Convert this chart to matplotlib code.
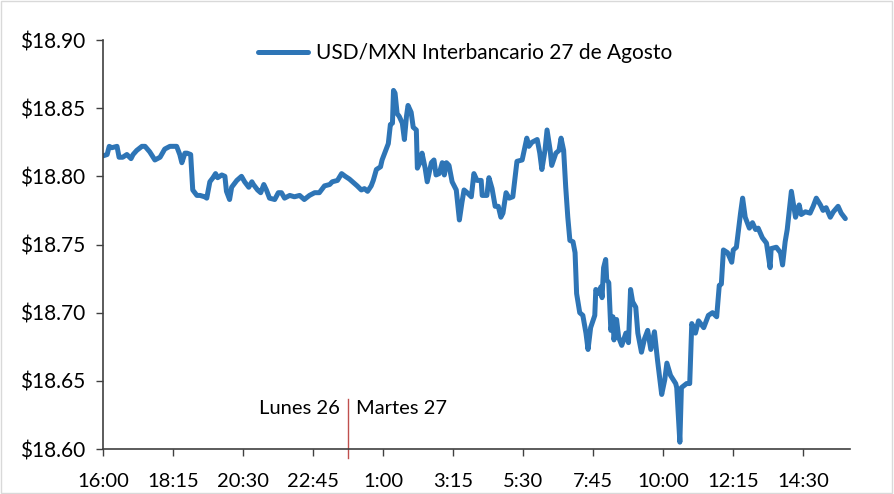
import matplotlib
matplotlib.use("Agg")
import matplotlib.pyplot as plt
from matplotlib.patches import Rectangle

# minutes elapsed since 16:00 (Lunes 26)
minutes = [0, 8, 12, 17, 27, 31, 38, 46, 54, 58, 65, 75, 81, 90, 100, 110, 119, 129, 137, 142,
           148, 152, 158, 162, 169, 173, 181, 187, 196, 200, 206, 212, 217, 221, 229, 235, 238, 244, 248, 258,
           267, 273, 281, 287, 290, 298, 304, 310, 315, 321, 331, 338, 344, 350, 360, 369, 379, 388, 398, 408,
           417, 427, 437, 442, 452, 460, 467, 475, 481, 490, 498, 504, 510, 517, 521, 527, 535, 538, 544, 550,
           554, 558, 560, 563, 567, 571, 577, 581, 585, 588, 594, 598, 604, 606, 612, 615, 621, 625, 633, 638,
           642, 648, 654, 658, 662, 667, 673, 681, 687, 692, 696, 702, 710, 715, 721, 729, 731, 740, 744, 750,
           756, 762, 767, 771, 777, 783, 790, 798, 808, 817, 821, 827, 837, 842, 846, 852, 856, 862, 865, 873,
           879, 883, 888, 892, 896, 900, 906, 910, 913, 919, 925, 931, 935, 940, 948, 950, 954, 960, 962, 965,
           969, 971, 975, 979, 983, 985, 990, 994, 1000, 1008, 1013, 1017, 1021, 1027, 1031, 1038, 1044, 1050, 1056, 1063,
           1069, 1077, 1083, 1087, 1094, 1104, 1106, 1112, 1115, 1125, 1131, 1135, 1142, 1148, 1158, 1167, 1175, 1183, 1188, 1192,
           1196, 1204, 1212, 1215, 1221, 1229, 1233, 1238, 1246, 1252, 1258, 1263, 1271, 1279, 1286, 1288, 1298, 1306, 1310, 1315,
           1319, 1327, 1335, 1342, 1346, 1354, 1363, 1369, 1375, 1383, 1388, 1394, 1402, 1408, 1417, 1423, 1431]

usdmxn = [18.815, 18.816, 18.822, 18.821, 18.822, 18.814, 18.814, 18.816, 18.813, 18.816, 18.819, 18.822, 18.822, 18.818, 18.812, 18.814, 18.820, 18.822, 18.822, 18.822,
          18.816, 18.810, 18.817, 18.817, 18.816, 18.790, 18.786, 18.786, 18.785, 18.784, 18.796, 18.799, 18.802, 18.799, 18.801, 18.800, 18.789, 18.783, 18.792, 18.797,
          18.800, 18.796, 18.792, 18.796, 18.794, 18.790, 18.788, 18.794, 18.790, 18.784, 18.783, 18.788, 18.788, 18.784, 18.786, 18.785, 18.786, 18.783, 18.786, 18.788,
          18.788, 18.793, 18.794, 18.796, 18.797, 18.802, 18.800, 18.798, 18.796, 18.793, 18.790, 18.791, 18.789, 18.793, 18.797, 18.805, 18.807, 18.812, 18.818, 18.824,
          18.838, 18.839, 18.863, 18.861, 18.846, 18.844, 18.839, 18.827, 18.844, 18.852, 18.847, 18.836, 18.834, 18.806, 18.811, 18.817, 18.806, 18.796, 18.810, 18.812,
          18.801, 18.802, 18.810, 18.801, 18.810, 18.808, 18.796, 18.790, 18.768, 18.781, 18.790, 18.788, 18.785, 18.802, 18.797, 18.797, 18.786, 18.786, 18.799, 18.791,
          18.778, 18.778, 18.770, 18.773, 18.788, 18.784, 18.785, 18.811, 18.812, 18.828, 18.822, 18.825, 18.827, 18.817, 18.805, 18.819, 18.834, 18.819, 18.808, 18.817,
          18.819, 18.828, 18.819, 18.792, 18.770, 18.753, 18.752, 18.744, 18.714, 18.700, 18.698, 18.685, 18.673, 18.689, 18.698, 18.717, 18.714, 18.719, 18.711, 18.733,
          18.739, 18.724, 18.722, 18.687, 18.697, 18.680, 18.695, 18.682, 18.676, 18.685, 18.678, 18.717, 18.708, 18.704, 18.685, 18.671, 18.681, 18.687, 18.673, 18.686,
          18.665, 18.640, 18.651, 18.663, 18.654, 18.648, 18.645, 18.605, 18.645, 18.648, 18.648, 18.692, 18.685, 18.694, 18.689, 18.698, 18.700, 18.697, 18.720, 18.721,
          18.746, 18.744, 18.737, 18.746, 18.748, 18.773, 18.784, 18.770, 18.762, 18.766, 18.761, 18.762, 18.755, 18.751, 18.733, 18.747, 18.748, 18.744, 18.735, 18.752,
          18.761, 18.789, 18.770, 18.779, 18.772, 18.774, 18.773, 18.778, 18.784, 18.779, 18.775, 18.777, 18.770, 18.774, 18.778, 18.773, 18.769]

tick_minutes = [0, 135, 270, 405, 540, 675, 810, 945, 1080, 1215, 1350]
tick_labels = ["16:00", "18:15", "20:30", "22:45", "1:00", "3:15", "5:30", "7:45", "10:00", "12:15", "14:30"]
y_ticks = [18.60, 18.65, 18.70, 18.75, 18.80, 18.85, 18.90]
series_label = "USD/MXN Interbancario 27 de Agosto"
day_split = 472
day_labels = ["Lunes 26", "Martes 27"]

plt.rcParams['font.family'] = ['Lato', 'DejaVu Sans']
FS = 15
FSX = 14.5

fig = plt.figure(figsize=(8.94, 4.94), dpi=100)
ax = fig.add_axes([103/894, 1-449/494, (850-103)/894, (449-40)/494])

ax.plot(minutes, usdmxn, color="#2E75B6", lw=3.6, solid_joinstyle="round",
        solid_capstyle="round", label=series_label)

ax.set_xlim(0, 1440)
ax.set_ylim(18.60, 18.90)
ax.set_xticks(tick_minutes)
ax.set_xticklabels(tick_labels)
ax.set_yticks(y_ticks)
ax.set_yticklabels([f"${v:.2f}" for v in y_ticks])

for s in ["top", "right"]:
    ax.spines[s].set_visible(False)
for s in ["left", "bottom"]:
    ax.spines[s].set_color("#404040")
    ax.spines[s].set_linewidth(1.2)
ax.tick_params(axis="both", direction="out", length=5, width=1.0, color="#404040",
               labelcolor="black")
ax.tick_params(axis="x", pad=12, labelsize=FSX)
ax.tick_params(axis="y", pad=8, labelsize=FS)

# day separator
trans = ax.get_xaxis_transform()
ax.plot([day_split, day_split], [-0.022, 0.122], color="#C0504D", lw=1.0,
        transform=trans, clip_on=False)
ax.text(day_split - 15, 0.10, day_labels[0], transform=trans, ha="right", va="center", fontsize=FSX)
ax.text(day_split + 15, 0.10, day_labels[1], transform=trans, ha="left", va="center", fontsize=FSX)

leg = ax.legend(loc="center", bbox_to_anchor=(0.485, 0.968), frameon=False, fontsize=FS,
                handlelength=2.4, handletextpad=0.4)

fig.patches.append(Rectangle((0.0015, 0.002), 0.996, 0.995, transform=fig.transFigure,
                             fill=False, edgecolor="#D9D9D9", lw=1.0))

fig.savefig("out.png", dpi=100)
